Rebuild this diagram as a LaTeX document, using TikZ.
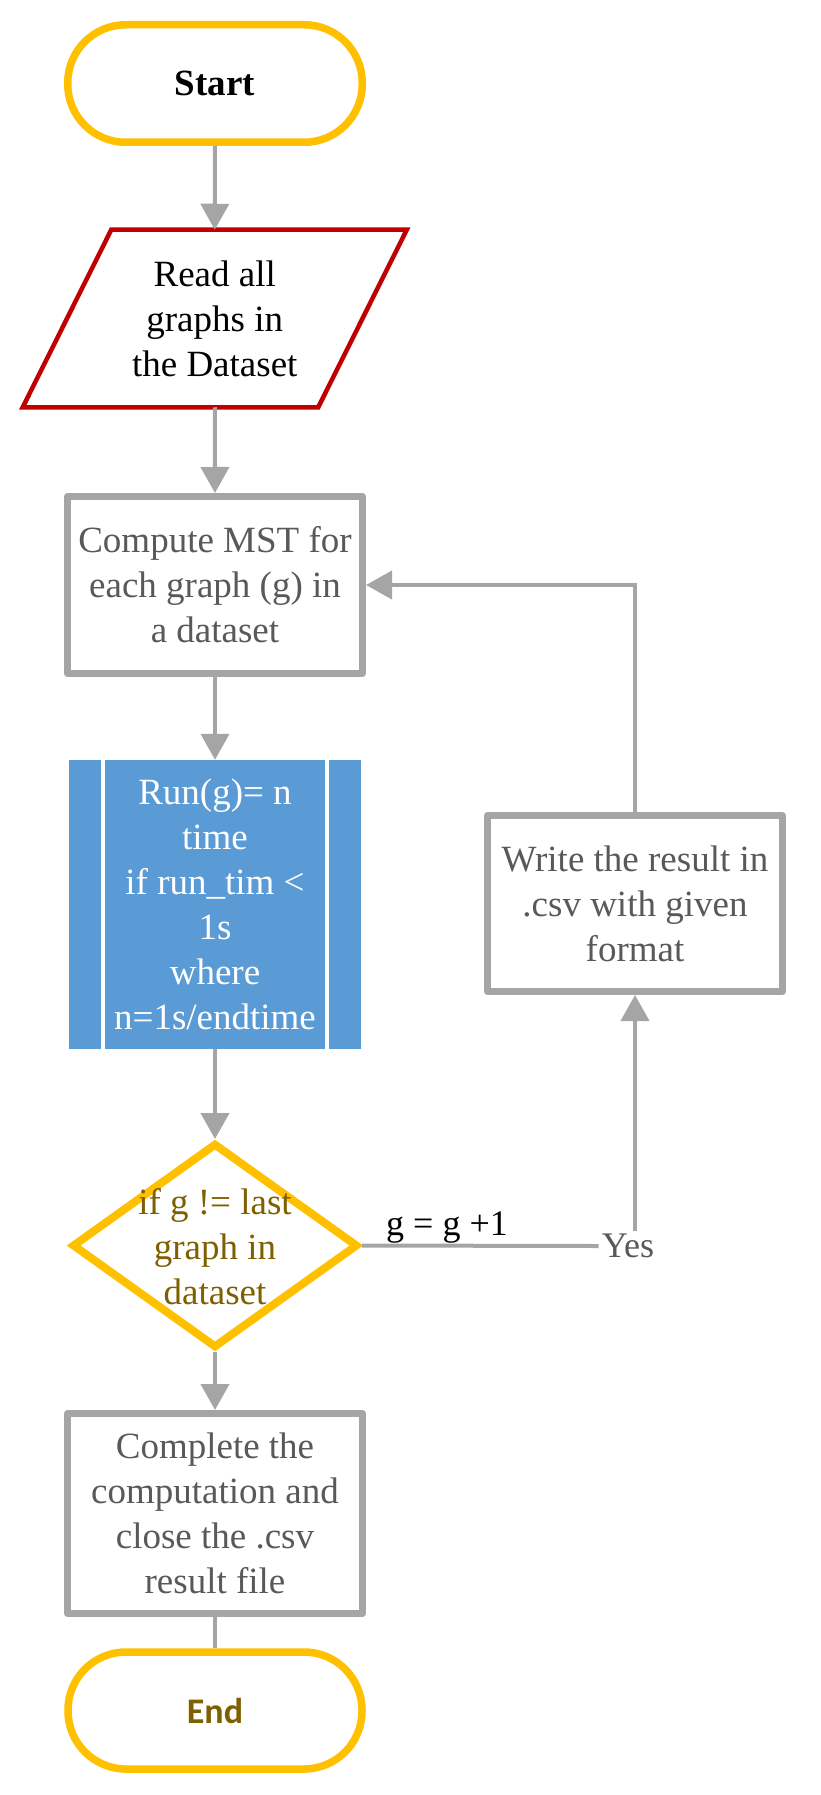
\documentclass[tikz,border=0pt]{standalone}
\usepackage{fontspec}
\setmainfont{Liberation Serif}
\newfontfamily\carlito{Carlito}
\usetikzlibrary{arrows.meta,shapes.geometric,calc}
\definecolor{gold}{HTML}{FFC000}
\definecolor{dgold}{HTML}{7F6000}
\definecolor{redline}{HTML}{C00000}
\definecolor{lgray}{HTML}{A5A5A5}
\definecolor{tgray}{HTML}{595959}
\definecolor{bluefill}{HTML}{5B9BD5}
\begin{document}
\begin{tikzpicture}[x=1pt,y=-1pt,
  txt/.style={font=\fontsize{37}{45}\selectfont, align=center, inner sep=0pt},
  term/.style={draw=gold, line width=7.5pt, rounded corners=58pt, minimum width=294.5pt, minimum height=117.5pt, inner sep=0pt},
  graybox/.style={draw=lgray, line width=7pt, line join=round, minimum width=295pt, text=tgray, txt},
  conn/.style={draw=lgray, line width=4pt},
  arr/.style={conn, -{Triangle[width=28pt,length=26pt]}}
]
\useasboundingbox (0,0) rectangle (820,1795);
\fill[white] (0,0) rectangle (820,1795);

% Start
\node[term, txt, font=\fontsize{37}{45}\selectfont\bfseries] (start) at (215,83.5) {Start};

% Read (parallelogram)
\node[txt, minimum width=202.5pt, minimum height=173pt, outer sep=2.25pt] (read) at (214.75,318.5) {Read all\\graphs in\\the Dataset};
\draw[redline, line width=4.5pt] (read.north west) -- ([xshift=88.5pt]read.north east) -- (read.south east) -- ([xshift=-88.5pt]read.south west) -- cycle;

% Compute
\node[graybox, minimum height=177pt] (compute) at (215,585) {Compute MST for\\each graph (g) in\\a dataset};

% Blue predefined process
\node[fill=bluefill, minimum width=292pt, minimum height=289pt, inner sep=0pt] (blue) at (215,904.5) {};
\draw[white, line width=4pt] ([xshift=34pt]blue.north west) -- ([xshift=34pt]blue.south west);
\draw[white, line width=4pt] ([xshift=-34pt]blue.north east) -- ([xshift=-34pt]blue.south east);
\node[txt, text=white] (bluetxt) at (blue.center) {Run(g)= n\\time\\if run\_tim <\\1s\\where\\n=1s/endtime};

% Decision
\node[diamond, draw=gold, line width=8pt, minimum width=286pt, minimum height=205pt, inner sep=0pt] (dec) at (215,1245.5) {};
\node[txt, text=dgold] (dectxt) at (215,1247) {if g != last\\graph in\\dataset};

% Complete
\node[graybox, minimum height=200pt] (complete) at (215,1513.5) {Complete the\\computation and\\close the .csv\\result file};

% End
\node[term, minimum width=294pt, minimum height=117pt, font=\carlito\fontsize{36}{43}\selectfont\bfseries, text=dgold] (end) at (215,1710.5) {End};

% Write
\node[graybox, minimum height=176pt] (write) at (635,903.5) {Write the result in\\.csv with given\\format};

% Labels
\node[font=\fontsize{36}{43}\selectfont, text=tgray, inner sep=3pt] (yes) at (628,1246) {Yes};
\node[font=\fontsize{36}{43}\selectfont, inner sep=0pt, anchor=base] (inc) at (447,1235) {g = g +1};

% Connectors
\draw[arr] (start.south) -- (read.north);
\draw[arr] (read.south) -- (compute.north);
\draw[arr] (compute.south) -- (blue.north);
\draw[arr] (blue.south) -- (dec.north);
\draw[arr] (dec.south) -- (complete.north);
\draw[conn] (complete.south) -- (end.north);
\draw[conn] (dec.east) -- (yes.west);
\draw[arr] (yes.north -| write.south) -- (write.south);
\draw[arr] (write.north) |- (compute.east);
\end{tikzpicture}
\end{document}
